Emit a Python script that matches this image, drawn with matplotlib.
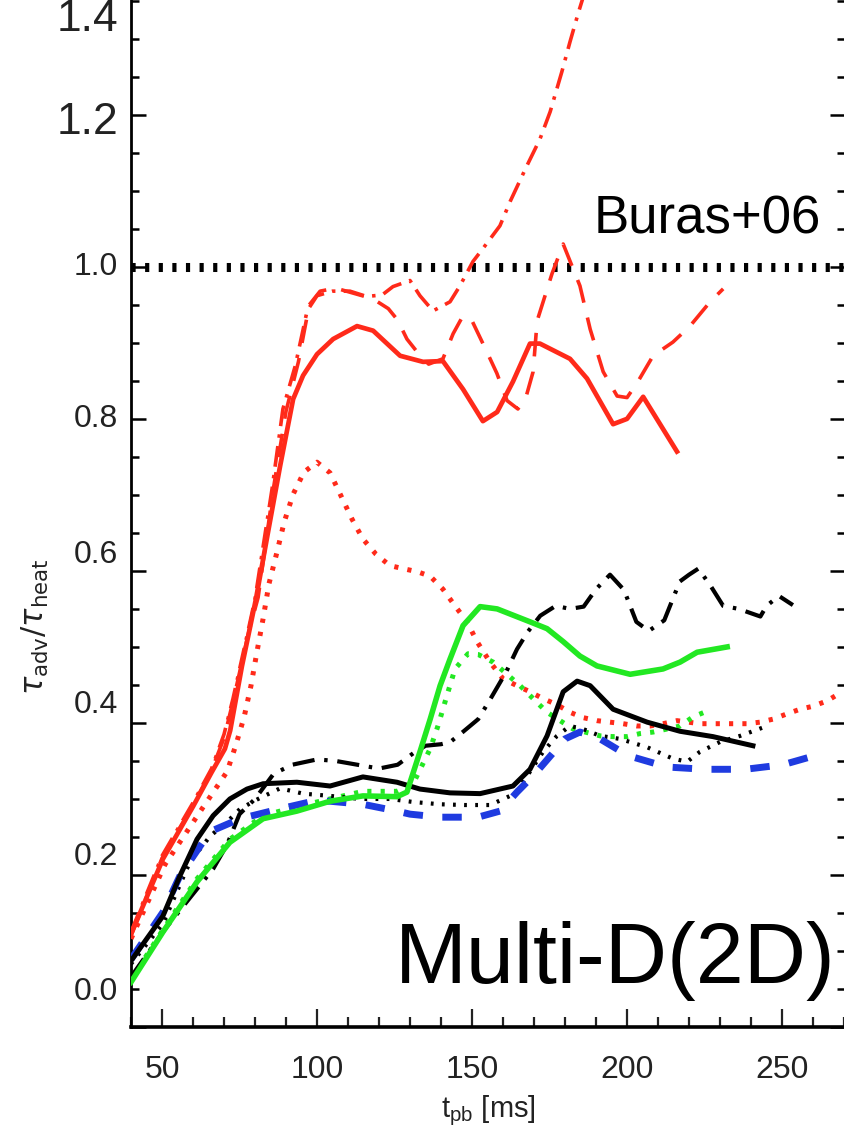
import matplotlib
matplotlib.use("Agg")
import matplotlib.pyplot as plt
from matplotlib.ticker import MultipleLocator, FixedLocator, NullFormatter

plt.rcParams['lines.scale_dashes'] = False

# ---------------- data ----------------
red_solid_t = [40, 50.3, 60, 66, 70.3, 72, 75.8, 80.3, 84.2, 88.1, 92.3, 95.5, 100, 105.2, 112.9, 118.1,
               126.8, 134.2, 140.6, 147.1, 153.5, 158.1, 163.2, 168.7, 171.9, 181.6, 187.1, 195.5, 200,
               205.2, 216.1]
red_solid_v = [0.122, 0.221, 0.29, 0.335, 0.366, 0.39, 0.475, 0.563, 0.651, 0.738, 0.826, 0.857, 0.885,
               0.905, 0.922, 0.916, 0.883, 0.875, 0.876, 0.839, 0.797, 0.809, 0.849, 0.899, 0.899, 0.879,
               0.853, 0.793, 0.800, 0.829, 0.757]

red_dashdot_t = [40, 50, 60, 66, 70, 72.9, 77.7, 80, 85.5, 89, 93, 96.8, 100, 105, 110.6, 116, 121, 124.5,
                 130, 133.2, 137.4, 142.9, 146.1, 150.3, 153.5, 159, 162.3, 167.7, 171.9, 175.2, 179,
                 181.6, 184.2, 187]
red_dashdot_v = [0.125, 0.225, 0.295, 0.34, 0.385, 0.432, 0.52, 0.563, 0.708, 0.813, 0.87, 0.942, 0.962,
                 0.968, 0.968, 0.961, 0.963, 0.974, 0.982, 0.962, 0.942, 0.954, 0.975, 1.007, 1.024, 1.054,
                 1.086, 1.133, 1.168, 1.204, 1.257, 1.296, 1.333, 1.37]

red_dash_t = [40, 50, 60, 66, 70, 73, 78, 81, 86, 90, 94, 97.5, 101, 106, 112, 118, 123, 126, 129, 132.3,
              136, 140.6, 143.9, 147, 150, 154.8, 158, 161.3, 164.8, 167.5, 169.7, 171, 175.8, 179.4,
              184.8, 188.1, 192.3, 196.8, 200, 203.5, 208.4, 214.8, 220.3, 226.8, 231]
red_dash_v = [0.12, 0.222, 0.292, 0.338, 0.38, 0.43, 0.52, 0.565, 0.71, 0.81, 0.875, 0.95, 0.968, 0.972,
              0.965, 0.958, 0.945, 0.93, 0.905, 0.888, 0.872, 0.879, 0.912, 0.935, 0.929, 0.888, 0.86,
              0.824, 0.813, 0.83, 0.862, 0.929, 0.991, 1.03, 0.975, 0.918, 0.862, 0.83, 0.828, 0.849,
              0.883, 0.901, 0.922, 0.954, 0.971]

red_dot_t = [40, 51, 62.9, 71, 73.9, 76.5, 78.7, 80.6, 82.6, 84.5, 87.1, 89.4, 92.3, 95.8, 100, 104.2,
             107.7, 111.3, 114.8, 119, 123.5, 127.7, 132.3, 136.5, 140.6, 144.5, 148.4, 151.6, 155.8, 160,
             164.5, 168.7, 172.9, 177.4, 181.6, 185.8, 190.3, 194.5, 198.7, 203.2, 207.4, 211.6, 216.1,
             223.5, 234.2, 238.7, 242.9, 247.1, 251.6, 255.8, 260, 264.5, 269.4]
red_dot_v = [0.116, 0.214, 0.287, 0.336, 0.372, 0.408, 0.449, 0.493, 0.537, 0.583, 0.625, 0.664, 0.701,
             0.730, 0.743, 0.729, 0.699, 0.668, 0.642, 0.622, 0.607, 0.603, 0.599, 0.593, 0.576, 0.554,
             0.533, 0.507, 0.480, 0.458, 0.449, 0.441, 0.432, 0.424, 0.414, 0.407, 0.403, 0.401, 0.399,
             0.396, 0.396, 0.399, 0.403, 0.399, 0.399, 0.399, 0.401, 0.405, 0.412, 0.418, 0.422, 0.429,
             0.441]

green_solid_t = [40, 50.3, 61.3, 71.9, 82.6, 93.5, 104.2, 114.8, 125.8, 129, 133.2, 136.5, 139.7, 142.9,
                 147.1, 152.6, 158.1, 168.7, 174.2, 179.4, 184.8, 190.3, 201, 211.6, 217.1, 222.6, 232.3]
green_solid_v = [0.059, 0.125, 0.191, 0.243, 0.274, 0.284, 0.297, 0.304, 0.303, 0.309, 0.362, 0.405,
                 0.449, 0.484, 0.528, 0.553, 0.550, 0.533, 0.524, 0.507, 0.488, 0.475, 0.464, 0.471,
                 0.480, 0.493, 0.500]

green_dot_t = [40, 50.3, 61.3, 71.9, 82.6, 93.5, 104.2, 114.8, 125.8, 131, 136.5, 139, 141.9, 144.5,
               148.7, 152, 156.8, 161.3, 165.5, 169.7, 174.2, 178.4, 182.6, 191.3, 195.5, 200, 204.2,
               208.4, 212.9, 217.1, 221.3, 226.1]
green_dot_v = [0.062, 0.128, 0.195, 0.247, 0.278, 0.29, 0.30, 0.31, 0.31, 0.32, 0.366, 0.396, 0.436,
               0.471, 0.491, 0.49, 0.48, 0.464, 0.449, 0.432, 0.414, 0.403, 0.392, 0.383, 0.382, 0.382,
               0.386, 0.388, 0.392, 0.396, 0.408, 0.416]

black_solid_t = [40, 50.3, 55.8, 61.3, 66.5, 71.9, 77.4, 82.6, 93.5, 104.2, 114.8, 125.8, 133.2, 142.9,
                 152.6, 163.2, 168.7, 174.2, 179.4, 183.9, 188.1, 195.5, 206.5, 217.1, 227.7, 240.6]
black_solid_v = [0.087, 0.146, 0.199, 0.247, 0.278, 0.300, 0.313, 0.320, 0.322, 0.317, 0.329, 0.322,
                 0.313, 0.308, 0.307, 0.317, 0.339, 0.383, 0.441, 0.455, 0.449, 0.418, 0.401, 0.389,
                 0.382, 0.370]

black_dashdot_t = [40, 51, 60, 66.5, 71, 75, 80, 86, 92, 100, 106, 113, 120, 126, 131, 135, 140, 143,
                   147, 152, 156, 161, 164.5, 168, 172, 177, 181.6, 186, 190, 194.5, 199, 203, 207, 212,
                   217, 220, 223, 227, 231, 236, 243, 245, 249, 253.5]
black_dashdot_v = [0.066, 0.129, 0.175, 0.208, 0.24, 0.28, 0.30, 0.333, 0.345, 0.352, 0.35, 0.345, 0.34,
                   0.345, 0.36, 0.37, 0.372, 0.375, 0.388, 0.405, 0.432, 0.467, 0.497, 0.52, 0.541,
                   0.554, 0.55, 0.553, 0.576, 0.595, 0.575, 0.533, 0.521, 0.535, 0.586, 0.595, 0.603,
                   0.58, 0.554, 0.55, 0.54, 0.554, 0.567, 0.555]

black_dot_t = [40, 50.3, 59, 65.5, 71.3, 75.2, 81, 88.1, 95.5, 104.2, 113.9, 123.5, 131, 139.7, 147.7,
               155.8, 163.9, 168.7, 172.9, 177.4, 181.6, 185.8, 191.3, 197.7, 206.5, 214.8, 219.4, 223.5,
               230, 236.5, 245.2]
black_dot_v = [0.083, 0.136, 0.217, 0.251, 0.271, 0.287, 0.300, 0.314, 0.307, 0.304, 0.300, 0.300, 0.296,
               0.293, 0.292, 0.292, 0.307, 0.336, 0.362, 0.383, 0.396, 0.392, 0.383, 0.379, 0.368, 0.353,
               0.349, 0.362, 0.375, 0.383, 0.396]

blue_dash_t = [40, 50.3, 55.8, 62.3, 65.5, 75.2, 88.1, 98.7, 104.2, 114.8, 125.8, 130, 139.7, 151.9, 159,
               164.5, 170.3, 175.8, 180, 184.8, 191.3, 200.3, 212.9, 225.2, 238.1, 250.3, 260.6]
blue_dash_v = [0.089, 0.151, 0.199, 0.238, 0.257, 0.274, 0.287, 0.297, 0.297, 0.293, 0.284, 0.280, 0.276,
               0.276, 0.284, 0.309, 0.333, 0.359, 0.379, 0.388, 0.379, 0.357, 0.342, 0.339, 0.339, 0.345,
               0.357]

x_ticks = [50, 100, 150, 200, 250]
y_tick_values = [0.0, 0.2, 0.4, 0.6, 0.8, 1.0, 1.2]
y_label_texts = ['0.0', '0.2', '0.4', '0.6', '0.8', '1.0', '1.2', '1.4']
# where the printed labels sit in the original (they are offset from their ticks)
y_label_pos = [0.046, 0.224, 0.424, 0.621, 0.80, 1.0, 1.19, 1.325]
reference_level = 1.0

RED = '#ff2a1a'
GREEN = '#22e822'
BLUE = '#1f3be0'
BLACK = '#000000'
TXT = '#222222'

# ---------------- figure ----------------
fig = plt.figure(figsize=(8.44, 11.33), dpi=100)
ax = fig.add_axes([131 / 844, 106 / 1133, 714 / 844, 1027 / 1133])
ax.set_xlim(40, 270.3)
ax.set_ylim(0, 1.351)

ax.axhline(reference_level, color=BLACK, lw=6.5, dashes=(3.0, 6.8), solid_capstyle='butt',
           dash_capstyle='butt', zorder=2)

ax.plot(red_dot_t, red_dot_v, color=RED, lw=3.6, dashes=(3.0, 6.6), zorder=3)
ax.plot(green_dot_t, green_dot_v, color=GREEN, lw=3.6, dashes=(3.0, 6.6), zorder=3)
ax.plot(black_dot_t, black_dot_v, color=BLACK, lw=3.0, dashes=(2.0, 6.0), zorder=3)
ax.plot(red_dash_t, red_dash_v, color=RED, lw=2.6, dashes=(17, 11), zorder=3)
ax.plot(red_dashdot_t, red_dashdot_v, color=RED, lw=2.6, dashes=(15, 6, 2.5, 6), zorder=3)
ax.plot(black_dashdot_t, black_dashdot_v, color=BLACK, lw=3.0, dashes=(16, 7, 2.5, 7), zorder=3)
ax.plot(blue_dash_t, blue_dash_v, color=BLUE, lw=5.0, dashes=(14, 14), zorder=4)
ax.plot(black_solid_t, black_solid_v, color=BLACK, lw=3.6, zorder=5)
ax.plot(green_solid_t, green_solid_v, color=GREEN, lw=4.0, zorder=5)
ax.plot(red_solid_t, red_solid_v, color=RED, lw=3.4, zorder=5)

ax.spines['top'].set_visible(False)
ax.spines['left'].set_linewidth(2.0)
ax.spines['bottom'].set_linewidth(2.6)
ax.spines['right'].set_linewidth(2.0)

ax.xaxis.set_major_locator(FixedLocator(x_ticks))
ax.xaxis.set_minor_locator(MultipleLocator(10))
ax.yaxis.set_major_locator(FixedLocator(y_tick_values))
ax.yaxis.set_minor_locator(MultipleLocator(0.05))
ax.yaxis.set_major_formatter(NullFormatter())
ax.tick_params(axis='x', which='both', direction='in', top=False, bottom=True, width=1.6,
               labelsize=23, pad=20, colors=TXT)
ax.tick_params(axis='x', which='major', length=13)
ax.tick_params(axis='x', which='minor', length=7)
ax.tick_params(axis='y', which='both', direction='in', left=True, right=True, width=1.8)
ax.tick_params(axis='y', which='major', length=11)
ax.tick_params(axis='y', which='minor', length=5.5)
for lab in ax.get_xticklabels():
    lab.set_family(['Liberation Sans', 'DejaVu Sans'])

ytrans = ax.get_yaxis_transform()
for txt, pos in zip(y_label_texts, y_label_pos):
    big = txt in ('1.2', '1.4')
    ax.text(-0.018, pos, txt, transform=ytrans, ha='right', va='center',
            fontsize=32 if big else 23, color=TXT,
            family=['Liberation Sans Narrow', 'Liberation Sans', 'DejaVu Sans'], clip_on=False)

ax.set_xlabel(r'$\mathregular{t_{pb}}$ [ms]', fontsize=21, color=TXT, labelpad=6,
              family=['Liberation Sans', 'DejaVu Sans'])
fig.text(35 / 844, 1 - 627 / 1133, r'$\tau_{\rm adv}/\tau_{\rm heat}$', rotation=90,
         ha='center', va='center', fontsize=22, color=TXT)

ax.text(0.966, 0.773, 'Buras+06', transform=ax.transAxes, ha='right', va='baseline',
        fontsize=38, family=['Liberation Sans', 'DejaVu Sans'], color='black')
ax.text(0.987, 0.043, 'Multi-D(2D)', transform=ax.transAxes, ha='right', va='baseline',
        fontsize=62, family=['Liberation Sans', 'DejaVu Sans'], color='black')

fig.savefig('out.png', dpi=100)
